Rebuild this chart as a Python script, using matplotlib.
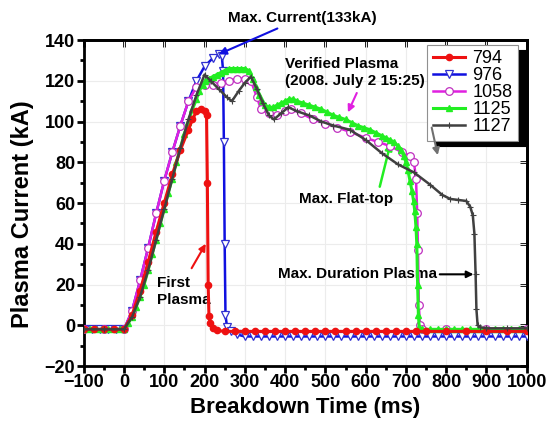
import numpy as np
import matplotlib.pyplot as plt

# font setup
plt.rcParams['font.family'] = ['Liberation Sans', 'DejaVu Sans']

# ---- data (time in ms, current in kA) ----
t794 = [-100, -75, -50, -25, 0, 20, 40, 60, 80, 100, 120, 140, 160, 170, 180, 190, 200, 205,
        207, 209, 211, 214, 220, 230, 250, 275, 300, 325, 350, 375, 400, 425, 450, 475, 500,
        525, 550, 575, 600, 625, 650, 675, 700, 725, 750, 800, 850, 900, 950, 1000]
i794 = [-2, -2, -2, -2, -2, 5, 17, 31, 46, 60, 74, 86, 96, 101, 105, 106, 105, 103,
        70, 20, 4.5, 1, -1.5, -2.5, -3, -3, -3, -3, -3, -3, -3, -3, -3, -3, -3,
        -3, -3, -3, -3, -3, -3, -3, -3, -3, -3, -3, -3, -3, -3, -3]

t976 = [-100, -80, -60, -40, -20, 0, 20, 40, 60, 80, 100, 120, 140, 160, 180, 200, 220, 235,
        243, 246, 248, 250, 252, 256, 265, 280, 300, 320, 340, 360, 380, 400, 420, 440, 460,
        480, 500, 520, 540, 560, 580, 600, 620, 640, 660, 680, 700, 720, 740, 760, 780, 800,
        820, 840, 860, 880, 900, 920, 940, 960, 980, 1000]
i976 = [-2, -2, -2, -2, -2, -2, 7, 22, 38, 55, 71, 85, 98, 110, 120, 127, 131, 133,
        132, 125, 90, 40, 5, -1, -3, -4.5, -5.5, -5.5, -5.5, -5.5, -5.5, -5.5, -5.5, -5.5, -5.5,
        -5.5, -5.5, -5.5, -5.5, -5.5, -5.5, -5.5, -5.5, -5.5, -5.5, -5.5, -5.5, -5.5, -5.5, -5.5,
        -5.5, -5.5, -5.5, -5.5, -5.5, -5.5, -5.5, -5.5, -5.5, -5.5, -5.5, -5.5]

t1058 = [-100, -50, 0, 20, 40, 60, 80, 100, 120, 140, 160, 180, 200, 220, 240, 260, 280, 300,
         315, 330, 340, 360, 380, 400, 415, 440, 470, 500, 530, 560, 600, 630, 660, 690, 710,
         720, 725, 728, 730, 732, 735, 740, 800, 900, 1000]
i1058 = [-2, -2, -2, 7, 22, 38, 55, 71, 85, 98, 110, 117, 118, 118, 119, 120, 121, 121,
         120, 112, 106, 104, 103, 105, 106, 104, 101, 99, 97, 95, 92, 90, 88, 85, 83,
         80, 72, 55, 37, 10, 0, -2, -2, -2, -2]

t1125 = [-100, -85, -70, -55, -40, -25, -10, 0, 10, 20, 30, 40, 50, 60, 70, 80, 90, 100, 110,
         120, 130, 140, 150, 160, 170, 180, 187, 195, 202, 210, 220, 230, 240, 250, 260, 270,
         280, 290, 300, 310, 320, 328, 335, 342, 350, 360, 370, 380, 390, 400, 410, 420, 430,
         445, 460, 475, 490, 505, 520, 535, 550, 565, 580, 595, 610, 625, 640, 650, 660, 670,
         680, 688, 695, 700, 705, 710, 715, 719, 722, 725, 727, 729, 731, 733, 740, 760, 780,
         800, 820, 840, 860, 880, 900, 920, 940, 960, 980, 1000]
i1125 = [-2, -2, -2, -2, -2, -2, -2, -2, 1, 4, 9, 14, 20, 27, 35, 42, 50, 57, 65,
         72, 80, 87, 94, 100, 106, 111, 115, 118, 120, 121, 122, 123, 124, 125, 126, 126,
         126, 126, 126, 125, 121, 117, 113, 110, 108, 107, 107, 108, 109, 110, 111, 111, 110,
         109, 108, 107, 106, 104.5, 103, 102, 101, 99.5, 98, 97, 96, 94.5, 93, 92, 91, 90,
         88, 86, 83, 80, 76, 71, 66, 61, 56, 48, 40, 20, 5, -1, -2, -2, -2,
         -2, -2, -2, -2, -2, -2, -2, -2, -2, -2, -2]

t1127 = [-100, -50, 0, 20, 40, 60, 80, 100, 120, 140, 160, 180, 200, 215, 235, 255, 268, 285,
         300, 315, 330, 345, 360, 372, 390, 408, 430, 460, 490, 520, 560, 600, 640, 680, 720,
         760, 790, 810, 830, 850, 860, 866, 870, 873, 875, 878, 885, 900, 950, 1000]
i1127 = [-2, -2, -2, 4, 14, 27, 42, 57, 72, 87, 101, 113, 123, 120, 116, 112, 110, 115,
         119, 122, 116, 109, 103, 101, 104, 107, 105, 103, 100, 98, 96, 91, 84.5, 79, 75,
         69, 64, 62, 61.5, 61, 58, 54, 45, 25, 8, 0, -1, -1.5, -1.5, -1.5]

xticks = list(range(-100, 1001, 100))
yticks = list(range(-20, 141, 20))

fig = plt.figure(figsize=(5.58, 4.33), dpi=100)
ax = fig.add_axes([0.150, 0.1547, 0.794, 0.7529])

ax.plot(t976, i976, color='#1010e0', lw=1.8, marker='v', ms=5.5, mfc='white', mec='#3030d0',
        mew=0.9, label='976', zorder=3)
ax.plot(t1058, i1058, color='#e020e0', lw=1.8, marker='o', ms=5.5, mfc='white', mec='#c030c0',
        mew=0.9, label='1058', zorder=4)
ax.plot(t1125, i1125, color='#22ee22', lw=2.2, marker='^', ms=4.5, mfc='#22ee22', mec='#22ee22',
        label='1125', zorder=5)
ax.plot(t794, i794, color='#ee1111', lw=2.2, marker='o', ms=4.5, mfc='#ee1111', mec='#ee1111',
        label='794', zorder=6)
ax.plot(t1127, i1127, color='#404040', lw=1.8, marker='+', ms=5, mew=0.8,
        label='1127', zorder=7)

ax.set_xlim(-100, 1000)
ax.set_ylim(-20, 140)
ax.set_xticks(xticks)
ax.set_yticks(yticks)
ax.set_xticks(range(-50, 1000, 100), minor=True)
ax.set_yticks(range(-10, 140, 20), minor=True)
ax.grid(True, color='#ececec', lw=0.8)
ax.set_axisbelow(True)

for s in ax.spines.values():
    s.set_linewidth(2.0)
ax.tick_params(which='major', direction='out', length=5, width=2, labelsize=13, pad=1)
ax.tick_params(which='minor', direction='out', length=3, width=2)
for lab in ax.get_xticklabels() + ax.get_yticklabels():
    lab.set_fontweight('bold')
# inward ticks on top and right
sec_x = ax.secondary_xaxis('top')
sec_x.set_xticks(xticks)
sec_x.tick_params(direction='in', length=5, width=2, labeltop=False)
sec_y = ax.secondary_yaxis('right')
sec_y.set_yticks(yticks)
sec_y.tick_params(direction='in', length=5, width=2, labelright=False)
for s in list(sec_x.spines.values()) + list(sec_y.spines.values()):
    s.set_linewidth(2.0)

ax.set_xlabel('Breakdown Time (ms)', fontsize=16, fontweight='bold', labelpad=4)
ax.set_ylabel('Plasma Current (kA)', fontsize=17, fontweight='bold')
ax.yaxis.set_label_coords(-0.112, 0.465)

# legend
handles, labels = ax.get_legend_handles_labels()
order = [labels.index(k) for k in ['794', '976', '1058', '1125', '1127']]
leg = ax.legend([handles[k] for k in order], [labels[k] for k in order],
                loc='upper right', bbox_to_anchor=(0.98, 0.985), fontsize=13,
                frameon=True, fancybox=False,
                shadow={'color': 'black', 'alpha': 1, 'ox': 6, 'oy': -4},
                labelspacing=0.0, handlelength=1.8, handletextpad=0.4, borderpad=0.3,
                borderaxespad=0)
leg.get_frame().set_edgecolor('#909090')
leg.get_frame().set_linewidth(0.8)

# annotations
ann = dict(fontsize=11, fontweight='bold', annotation_clip=False)
ax.annotate('Max. Current(133kA)', xy=(235, 133), xytext=(258, 151), ha='left', va='center',
            arrowprops=dict(arrowstyle='-|>', color='#1010e0', lw=1.5, shrinkA=2, shrinkB=0),
            **ann)
ax.annotate('Verified Plasma\n(2008. July 2 15:25)', xy=(556, 104.5), xytext=(400, 124),
            ha='left', va='center', linespacing=1.3, **ann)
ax.annotate('', xy=(556, 104.5), xytext=(578, 114),
            arrowprops=dict(arrowstyle='-|>', color='#e020e0', lw=1.5, shrinkA=0, shrinkB=0))
ax.annotate('Max. Flat-top', xy=(662, 89.5), xytext=(551, 62), ha='center', va='center', **ann)
ax.annotate('', xy=(662, 89.5), xytext=(635, 68),
            arrowprops=dict(arrowstyle='-|>', color='#22ee22', lw=1.8, shrinkA=0, shrinkB=0))
ax.annotate('Max. Duration Plasma', xy=(868, 25), xytext=(777, 25), ha='right', va='center', **ann)
ax.annotate('', xy=(868, 25), xytext=(784, 25),
            arrowprops=dict(arrowstyle='-|>', color='black', lw=1.5, shrinkA=0, shrinkB=0))
ax.annotate('First\nPlasma', xy=(203, 40), xytext=(83, 16.5), ha='left', va='center',
            linespacing=1.3, **ann)
ax.annotate('', xy=(203, 40), xytext=(168, 28),
            arrowprops=dict(arrowstyle='-|>', color='#ee1111', lw=1.5, shrinkA=0, shrinkB=0))
ax.annotate('', xy=(779, 83.5), xytext=(764, 97),
            arrowprops=dict(arrowstyle='-|>', color='#707070', lw=1.5, shrinkA=0, shrinkB=0),
            zorder=10)

fig.savefig('out.png', dpi=100)
